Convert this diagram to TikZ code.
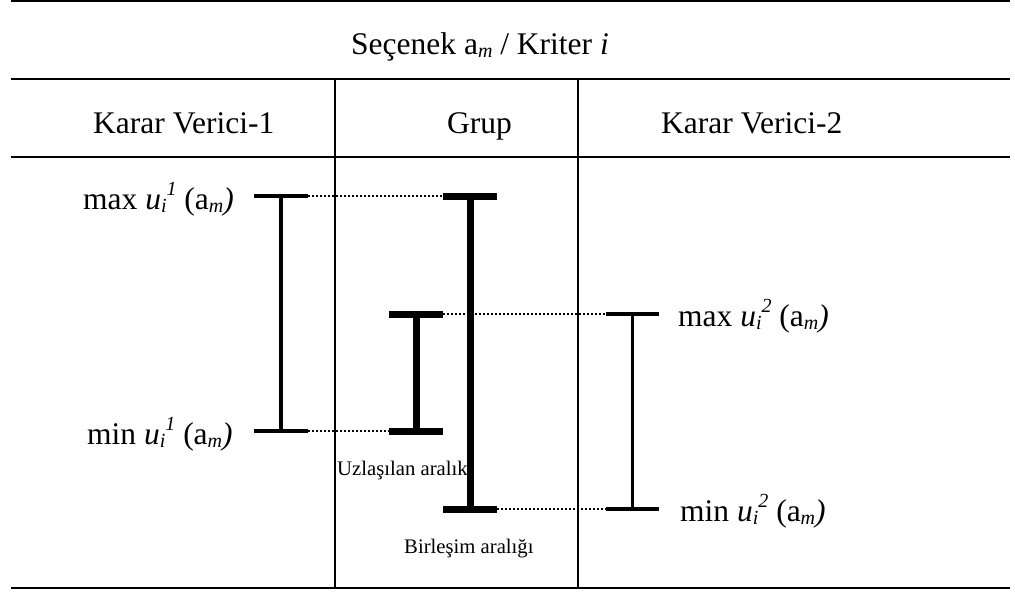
\documentclass[tikz,border=0pt]{standalone}
\usepackage{fontspec}
\setmainfont{Liberation Serif}
\usepackage{tikz}
\usetikzlibrary{positioning}

% small italic index, lowered or raised
\newcommand\lowtxt[1]{\raisebox{-0.1em}{\fontsize{20}{20}\selectfont\textit{#1}}}
\newcommand\hightxt[1]{\raisebox{0.42em}{\fontsize{20}{20}\selectfont\textit{#1}}}
% u_i^k (a_m) with max/min in front
\newcommand\uval[2]{#1 \textit{u}\lowtxt{i}\hightxt{#2} (a\lowtxt{m}\textit{)}}

\begin{document}
\begin{tikzpicture}[x=1pt,y=-1pt,
                    rule/.style={draw=black,line width=2.3},
                    colrule/.style={draw=black,line width=1.3},
                    head/.style={anchor=base west,inner sep=0,font=\fontsize{31.5}{38}\selectfont},
                    lbl/.style={anchor=base west,inner sep=0,font=\fontsize{31.5}{38}\selectfont},
                    small/.style={anchor=base west,inner sep=0,font=\fontsize{20.7}{25}\selectfont},
                    thinbar/.style={draw=black,line width=3.3,line cap=butt},
                    thickbar/.style={draw=black,line width=7,line cap=butt},
                    link/.style={draw=black,line width=1.8,dash pattern=on 1.8pt off 2.2pt}
                ]
    \useasboundingbox (0,0) rectangle (1015,592);

    % table rules
    \foreach \y/\w in {0.8/2.6,79/2.3,157/2.3,588/2.5}
        {
        \draw[rule,line width=\w] (11,\y) -- (1010,\y);
    }
    \foreach \x in {335,578}
        {
        \draw[colrule] (\x,79) -- (\x,588);
    }

    % headings
    \node[head] (title) at (351,54) {Seçenek a\lowtxt{m} / Kriter \textit{i}};
    \node[head] (kv1) at (93,133) {Karar Verici-1};
    \node[head] (grup) at (447,133) {Grup};
    \node[head] (kv2) at (661,133) {Karar Verici-2};

    % interval end points
    \coordinate (kv1max) at (308,196);
    \coordinate (kv1min) at (308,431);
    \coordinate (birmax) at (443,196);
    \coordinate (birmin) at (497,509);
    \coordinate (uzlmax) at (443,314);
    \coordinate (uzlmin) at (389,431);
    \coordinate (kv2max) at (606,314);
    \coordinate (kv2min) at (606,509);

    % dotted links between the intervals
    \draw[link] (kv1max) -- (birmax);
    \draw[link] (kv1min) -- (uzlmin);
    \draw[link] (uzlmax) -- (kv2max);
    \draw[link] (birmin) -- (kv2min);

    % Karar Verici-1
    \draw[thinbar] (254,196) -- (308,196) (281,196) -- (281,431) (254,431) -- (308,431);
    % Uzlasilan aralik
    \draw[thickbar] (389,314) -- (443,314) (416,314) -- (416,431) (389,431) -- (443,431);
    % Birlesim araligi
    \draw[thickbar] (443,196) -- (497,196) (470,196) -- (470,509) (443,509) -- (497,509);
    % Karar Verici-2
    \draw[thinbar] (606,314) -- (659,314) (632.5,314) -- (632.5,509) (606,509) -- (659,509);

    % labels
    \node[lbl] (kv1maxl) at (83,209) {\uval{max}{1}};
    \node[lbl] (kv1minl) at (87,444) {\uval{min}{1}};
    \node[lbl] (kv2maxl) at (678,326) {\uval{max}{2}};
    \node[lbl] (kv2minl) at (680,521) {\uval{min}{2}};
    \node[small] (uzl) at (337,475) {Uzlaşılan aralık};
    \node[small] (bir) at (404,553) {Birleşim aralığı};
\end{tikzpicture}
\end{document}
